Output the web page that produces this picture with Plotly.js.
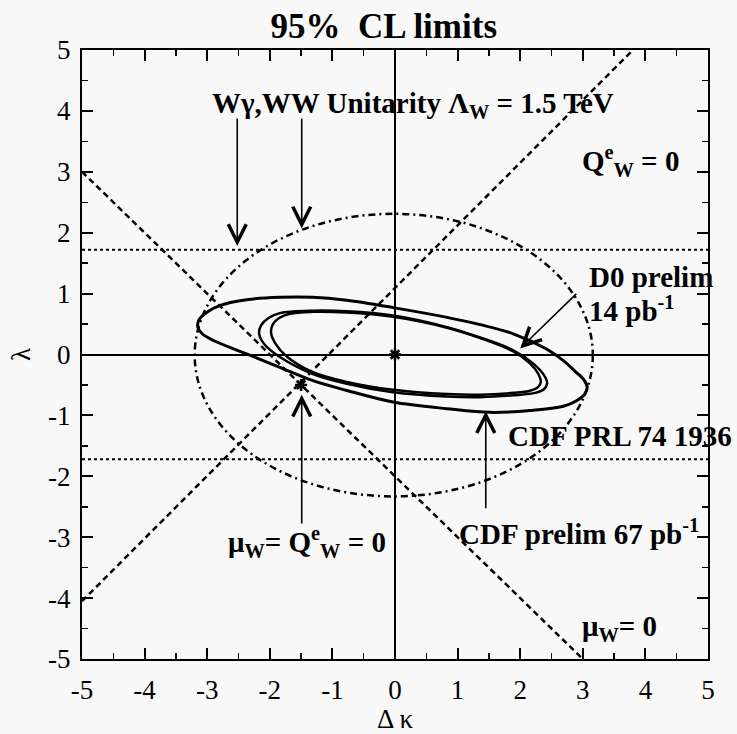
<!DOCTYPE html>
<html>
<head>
<meta charset="utf-8">
<script src="https://cdn.plot.ly/plotly-3.0.1.min.js"></script>
<style>
  html, body { margin: 0; padding: 0; background: #f8f8f8; }
  #chart { width: 737px; height: 734px; }
</style>
</head>
<body>
<div id="chart"></div>
<script>
// Axis ticks (Δκ and λ both run -5..5)
const majorTicks = [-5, -4, -3, -2, -1, 0, 1, 2, 3, 4, 5];
const tickLabels = ['-5', '-4', '-3', '-2', '-1', '0', '1', '2', '3', '4', '5'];
const minorTicks = [-4.5, -3.5, -2.5, -1.5, -0.5, 0.5, 1.5, 2.5, 3.5, 4.5];

// Wγ/WW unitarity bounds, Λ_W = 1.5 TeV
const unitarityLineKappa = [-5, 5];
const unitarityLineLambda = 1.72;
const unitarityEllipseKappa = [-3.2, 3.16];
const unitarityEllipseLambda = [-2.33, 2.31];

// μ_W = 0 and Q^e_W = 0 lines
const muZeroKappa = [-5, 3];
const muZeroLambda = [3, -5];
const qZeroKappa = [-5, 3.8];
const qZeroLambda = [-4.05, 5];

// 95% CL contours
const prlKappa = [-0.77, -0.03, 0.83, 1.36, 1.89, 2.42, 2.69, 2.88, 3.02, 3.07, 3.03, 2.90, 2.69, 2.16, 1.52, 0.83, -0.03, -0.77, -1.31, -1.84, -2.37, -2.90, -3.08, -3.15, -3.13, -3.01, -2.78, -2.37, -1.84, -1.31, -0.77];
const prlLambda = [0.89, 0.77, 0.61, 0.49, 0.34, 0.09, -0.10, -0.28, -0.42, -0.54, -0.65, -0.76, -0.85, -0.92, -0.95, -0.89, -0.78, -0.59, -0.43, -0.21, 0.01, 0.23, 0.34, 0.45, 0.57, 0.69, 0.81, 0.90, 0.94, 0.94, 0.89];

const cdfKappa = [-0.77, -0.03, 0.83, 1.36, 1.89, 2.21, 2.38, 2.43, 2.38, 2.24, 1.89, 1.36, 0.83, -0.03, -0.77, -1.31, -1.84, -2.08, -2.17, -2.14, -2.02, -1.84, -1.31, -0.77];
const cdfLambda = [0.71, 0.64, 0.45, 0.28, 0.07, -0.15, -0.34, -0.47, -0.57, -0.63, -0.67, -0.70, -0.69, -0.62, -0.48, -0.32, -0.04, 0.16, 0.34, 0.48, 0.60, 0.68, 0.72, 0.71];

const d0Kappa = [-0.77, -0.03, 0.83, 1.36, 1.89, 2.16, 2.29, 2.33, 2.28, 2.14, 1.89, 1.36, 0.83, -0.03, -0.77, -1.31, -1.72, -1.91, -1.98, -1.95, -1.85, -1.68, -1.31, -0.77];
const d0Lambda = [0.69, 0.62, 0.44, 0.27, 0.05, -0.15, -0.32, -0.45, -0.54, -0.60, -0.63, -0.66, -0.65, -0.58, -0.45, -0.29, -0.04, 0.18, 0.36, 0.50, 0.60, 0.67, 0.70, 0.69];

// Special points: standard model and μ_W = Q^e_W = 0
const starKappa = [0, -1.5];
const starLambda = [0, -0.5];

const serif = 'Liberation Serif, Times New Roman, serif';
const ink = '#000';

function line(x, y, dash, width, shape) {
  return {
    type: 'scatter', mode: 'lines', x: x, y: y, hoverinfo: 'skip',
    line: { color: ink, width: width, dash: dash, shape: shape || 'linear', smoothing: 1 }
  };
}

const traces = [
  line(unitarityLineKappa, [unitarityLineLambda, unitarityLineLambda], 'dot', 2),
  line(unitarityLineKappa, [-unitarityLineLambda, -unitarityLineLambda], 'dot', 2),
  line(muZeroKappa, muZeroLambda, '6px,4px', 2.5),
  line(qZeroKappa, qZeroLambda, '6px,4px', 2.5),
  line(prlKappa, prlLambda, 'solid', 3, 'spline'),
  line(cdfKappa, cdfLambda, 'solid', 2.5, 'spline'),
  line(d0Kappa, d0Lambda, 'solid', 2.5, 'spline'),
  {
    type: 'scatter', mode: 'markers', x: starKappa, y: starLambda, hoverinfo: 'skip',
    marker: { symbol: 'asterisk-open', size: 10, color: ink, line: { color: ink, width: 2.5 } }
  }
];

function label(x, y, text) {
  return { x: x, y: y, xref: 'x', yref: 'y', text: text, showarrow: false,
    xanchor: 'left', yanchor: 'middle',
    font: { family: serif, size: 29, color: ink, weight: 'bold' } };
}
function arrow(x, y, ax, ay) {
  return { x: x, y: y, ax: ax, ay: ay, xref: 'x', yref: 'y', axref: 'x', ayref: 'y',
    text: '', showarrow: true, arrowhead: 5, arrowsize: 2.2, arrowwidth: 1.6, arrowcolor: ink };
}

const annotations = [
  label(-2.96, 4.1, 'Wγ,WW Unitarity Λ<sub>W</sub> = 1.5 TeV'),
  label(2.96, 3.18, 'Q<sup>e</sup><sub>W</sub> = 0'),
  label(3.07, 1.28, 'D0 prelim'),
  label(3.07, 0.74, '14 pb<sup>-1</sup>'),
  label(1.77, -1.34, 'CDF PRL 74 1936'),
  label(0.99, -2.92, 'CDF prelim 67 pb<sup>-1</sup>'),
  label(-2.70, -3.08, 'μ<sub>W</sub>= Q<sup>e</sup><sub>W</sub> = 0'),
  label(2.96, -4.49, 'μ<sub>W</sub>= 0'),
  arrow(-2.52, 1.78, -2.52, 3.9),
  arrow(-1.49, 2.07, -1.49, 3.9),
  arrow(-1.49, -0.66, -1.49, -2.8),
  arrow(1.45, -0.93, 1.45, -2.55),
  arrow(2.0, 0.10, 2.92, 1.02)
];

const shapes = [
  { type: 'circle', xref: 'x', yref: 'y',
    x0: unitarityEllipseKappa[0], x1: unitarityEllipseKappa[1],
    y0: unitarityEllipseLambda[0], y1: unitarityEllipseLambda[1],
    line: { color: ink, width: 2.5, dash: '7px,4px,2px,4px' } }
];

function axis(titleText, standoff, labelStandoff) {
  return {
    range: [-5, 5], tickmode: 'array', tickvals: majorTicks, ticktext: tickLabels,
    ticks: 'inside', ticklen: 11, tickwidth: 2, tickcolor: ink,
    minor: { tickmode: 'array', tickvals: minorTicks, ticks: 'inside', ticklen: 6, tickwidth: 1.5, tickcolor: ink },
    showline: true, linecolor: ink, linewidth: 2, mirror: 'ticks',
    showgrid: false, zeroline: true, zerolinecolor: ink, zerolinewidth: 2,
    tickfont: { family: serif, size: 27, color: ink },
    ticklabelstandoff: labelStandoff,
    title: { text: titleText, font: { family: serif, size: 27, color: ink }, standoff: standoff },
    fixedrange: true
  };
}

const layout = {
  width: 737, height: 734,
  margin: { l: 82, r: 29, t: 50, b: 75 },
  paper_bgcolor: '#f8f8f8', plot_bgcolor: '#f8f8f8',
  showlegend: false,
  title: { text: '95%\u00a0 CL limits', x: 0.482, xref: 'paper', y: 0.965, yref: 'container',
    yanchor: 'middle', font: { family: serif, size: 35, color: ink, weight: 'bold' } },
  xaxis: axis('Δ κ', 12, 6),
  yaxis: axis('λ', 10, 4),
  shapes: shapes,
  annotations: annotations
};

Plotly.newPlot('chart', traces, layout, { staticPlot: true, displayModeBar: false });
</script>
</body>
</html>
